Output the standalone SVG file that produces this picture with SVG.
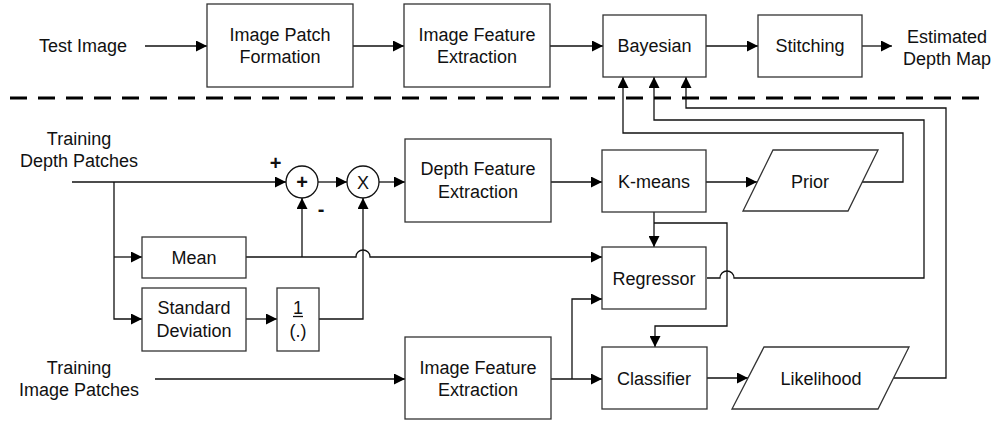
<svg xmlns="http://www.w3.org/2000/svg" width="996" height="422" viewBox="0 0 996 422">
<style>
.b{fill:#fff;stroke:#333;stroke-width:1.3}
.t{font-family:"Liberation Sans",Arial,sans-serif;font-size:18px;fill:#111;text-anchor:middle}
.s{font-weight:bold;font-size:20px}
.c{fill:none;stroke:#111;stroke-width:1.3}
.a{marker-end:url(#ah)}
</style>
<defs>
<marker id="ah" markerWidth="11" markerHeight="11" refX="11" refY="5.5" orient="auto" markerUnits="userSpaceOnUse">
<path d="M0,0 L11,5.5 L0,11 z" fill="#000"/>
</marker>
</defs>
<rect width="996" height="422" fill="#fff"/>
<g id="connectors">
<path class="c a" d="M145,46 H207"/>
<path class="c a" d="M353,46 H404"/>
<path class="c a" d="M550,46 H603"/>
<path class="c a" d="M706,46 H758"/>
<path class="c a" d="M862,46 H892"/>
<path class="c a" d="M862,182 H903 V133 H623 V77"/>
<path class="c a" d="M707,278 H720 a7,7 0 0 1 14,0 H924 V120 H654 V77"/>
<path class="c a" d="M894,378 H946 V108 H686 V77"/>
<path class="c a" d="M72,182 H286"/>
<path class="c a" d="M318,182 H347"/>
<path class="c a" d="M379,182 H405"/>
<path class="c a" d="M114,182 V319 H142"/>
<path class="c a" d="M114,257 H142"/>
<path class="c a" d="M246,257 H356 a7,7 0 0 1 14,0 H602"/>
<path class="c a" d="M302,257 V198"/>
<path class="c a" d="M246,319 H277"/>
<path class="c a" d="M319,319 H363 V198"/>
<path class="c a" d="M551,182 H602"/>
<path class="c a" d="M706,182 H757"/>
<path class="c a" d="M654,212 V247"/>
<path class="c a" d="M654,223 H727 V326 H655 V347"/>
<path class="c a" d="M155,379 H405"/>
<path class="c a" d="M551,379 H602"/>
<path class="c a" d="M572,379 V299 H602"/>
<path class="c a" d="M707,378 H748"/>
<path d="M10,98 H990" fill="none" stroke="#000" stroke-width="3" stroke-dasharray="17 11"/>
</g>
<g id="test-image"><text class="t" x="83" y="52">Test Image</text></g>
<g id="image-patch-formation"><rect class="b" x="207" y="4" width="146" height="83"/><text class="t" x="280" y="41">Image Patch</text><text class="t" x="280" y="63">Formation</text></g>
<g id="image-feature-extraction-top"><rect class="b" x="404" y="4" width="146" height="83"/><text class="t" x="477" y="41">Image Feature</text><text class="t" x="477" y="63">Extraction</text></g>
<g id="bayesian"><rect class="b" x="603" y="15" width="103" height="62"/><text class="t" x="654.5" y="52">Bayesian</text></g>
<g id="stitching"><rect class="b" x="758" y="15" width="104" height="62"/><text class="t" x="810" y="52">Stitching</text></g>
<g id="estimated-depth-map"><text class="t" x="947" y="43">Estimated</text><text class="t" x="947" y="65">Depth Map</text></g>
<g id="training-depth-patches"><text class="t" x="79" y="145">Training</text><text class="t" x="79" y="167">Depth Patches</text></g>
<g id="sum"><circle cx="302" cy="182" r="16" fill="#fff" stroke="#111" stroke-width="1.3"/><text class="t s" x="302" y="189">+</text><text class="t s" x="275.5" y="170">+</text><text class="t s" x="321" y="216">-</text></g>
<g id="product"><circle cx="363" cy="182" r="16" fill="#fff" stroke="#111" stroke-width="1.3"/><text class="t" x="363" y="188.5">X</text></g>
<g id="depth-feature-extraction"><rect class="b" x="405" y="139" width="146" height="83"/><text class="t" x="478" y="175">Depth Feature</text><text class="t" x="478" y="198">Extraction</text></g>
<g id="k-means"><rect class="b" x="602" y="150" width="104" height="62"/><text class="t" x="654" y="188">K-means</text></g>
<g id="prior"><polygon class="b" points="773,150 878,150 848,211 743,211"/><text class="t" x="810" y="188">Prior</text></g>
<g id="mean"><rect class="b" x="142" y="237" width="104" height="41"/><text class="t" x="194" y="264">Mean</text></g>
<g id="standard-deviation"><rect class="b" x="142" y="288" width="104" height="63"/><text class="t" x="194" y="314">Standard</text><text class="t" x="194" y="337">Deviation</text></g>
<g id="reciprocal"><rect class="b" x="277" y="288" width="42" height="63"/><text class="t" x="298" y="314">1</text><path d="M293,316.5 H303" stroke="#111" stroke-width="1.3"/><text class="t" x="298" y="337">(.)</text></g>
<g id="regressor"><rect class="b" x="602" y="247" width="104" height="62"/><text class="t" x="654" y="285">Regressor</text></g>
<g id="training-image-patches"><text class="t" x="79" y="374">Training</text><text class="t" x="79" y="396">Image Patches</text></g>
<g id="image-feature-extraction-bottom"><rect class="b" x="405" y="337" width="146" height="82"/><text class="t" x="478" y="374">Image Feature</text><text class="t" x="478" y="396">Extraction</text></g>
<g id="classifier"><rect class="b" x="602" y="347" width="105" height="62"/><text class="t" x="654" y="385">Classifier</text></g>
<g id="likelihood"><polygon class="b" points="764,347 909,347 878,409 732,409"/><text class="t" x="821" y="385">Likelihood</text></g>
</svg>
